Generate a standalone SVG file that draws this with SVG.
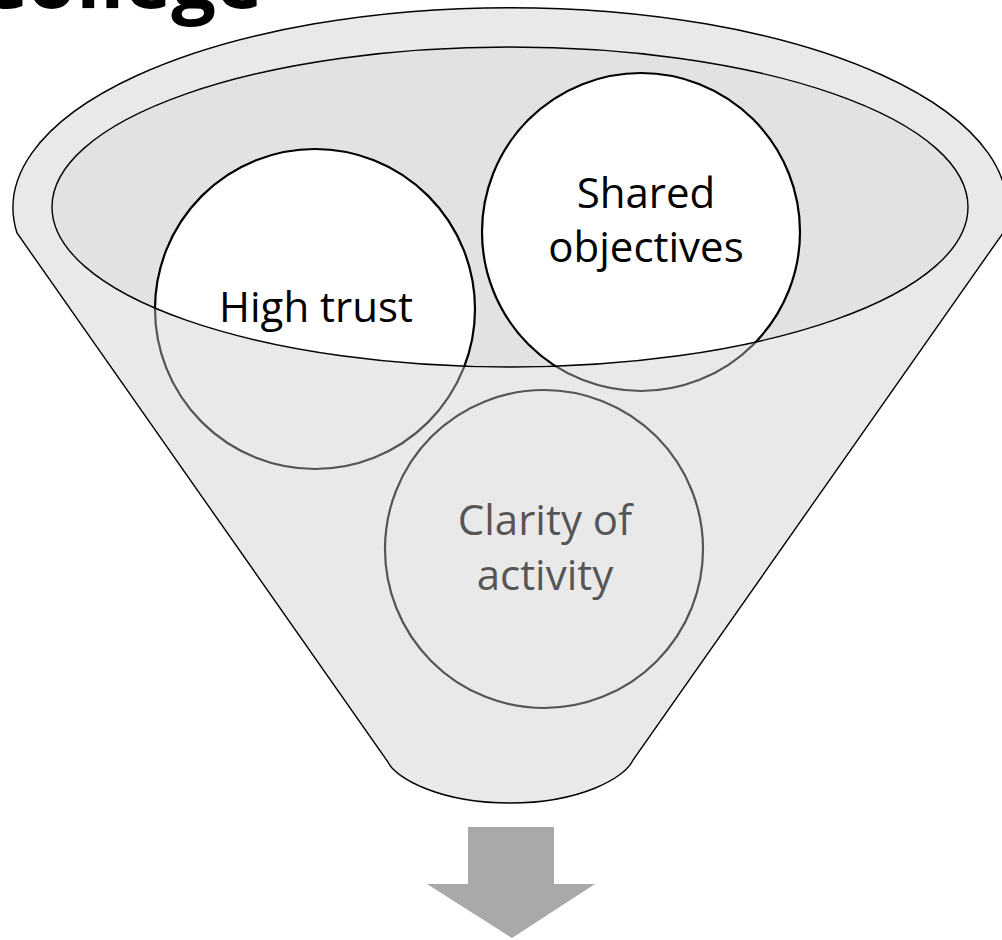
<svg xmlns="http://www.w3.org/2000/svg" width="1002" height="940" viewBox="0 0 1002 940">
  <style>
    .outline { fill: none; stroke: #000; stroke-width: 1.4; }
    .circle { fill: #fff; stroke: #000; stroke-width: 2.2; }
    .label { font-family: "Open Sans", "Noto Sans", sans-serif; font-size: 42px; fill: #000; text-anchor: middle; }
    .dim { fill: #595959; }
  </style>
  <defs>
    <path id="funnelShape" d="M 17 233 A 497 200 0 1 1 1003 233 L 633 760 C 625 778 580 803 510 803 C 440 803 395 778 388 762 Z"/>
  </defs>
  <rect x="0" y="0" width="1002" height="940" fill="#fff"/>
  <text x="-23" y="8" font-family="'Open Sans', 'Noto Sans', sans-serif" font-size="79" font-weight="bold" fill="#000">College</text>

  <g id="funnel-base">
    <use href="#funnelShape" fill="#fff"/>
    <ellipse cx="510" cy="207" rx="458" ry="160" fill="#e2e2e2"/>
  </g>

  <g id="node-high-trust">
    <circle class="circle" cx="315" cy="309" r="160"/>
    <text class="label" x="316" y="322">High trust</text>
  </g>
  <g id="node-shared-objectives">
    <circle class="circle" cx="641" cy="232" r="159"/>
    <text class="label" x="646" y="208">Shared</text>
    <text class="label" x="646" y="262">objectives</text>
  </g>
  <g id="node-clarity">
    <circle class="circle" cx="544" cy="549" r="159"/>
    <text class="label" x="545" y="535">Clarity of</text>
    <text class="label" x="545" y="590">activity</text>
  </g>

  <g id="funnel-overlay">
    <path d="M 17 233 A 497 200 0 1 1 1003 233 L 633 760 C 625 778 580 803 510 803 C 440 803 395 778 388 762 Z M 52 207 A 458 160 0 1 0 968 207 A 458 160 0 1 0 52 207 Z" fill="#cacaca" fill-opacity="0.42" fill-rule="evenodd"/>
    <use href="#funnelShape" class="outline"/>
    <ellipse class="outline" cx="510" cy="207" rx="458" ry="160"/>
  </g>

  <g id="connectors">
    <polygon points="468,827 554,827 554,884 595,884 512,938 427,884 468,884" fill="#a9a9a9"/>
  </g>
</svg>
